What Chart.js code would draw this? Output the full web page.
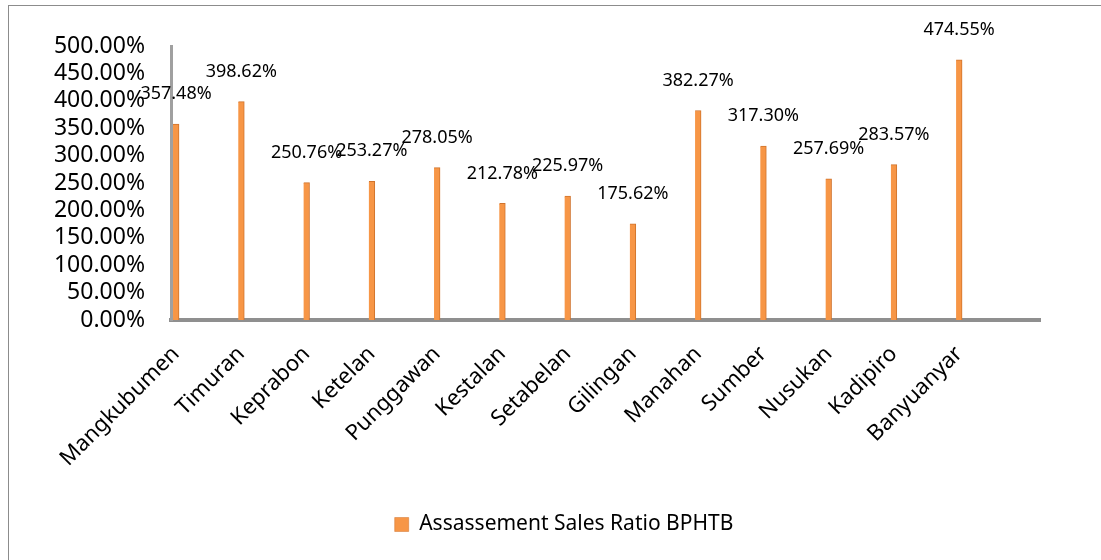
<!DOCTYPE html>
<html>
<head>
<meta charset="utf-8">
<script src="https://cdn.jsdelivr.net/npm/chart.js@4.4.1/dist/chart.umd.min.js"></script>
<style>
  html, body { margin: 0; padding: 0; background: #fff; overflow: hidden; }
  #frame { position: absolute; left: 8px; top: 5px; width: 1200px; height: 700px; border: 1px solid #8c8c8c; }
  #chart { position: absolute; left: 0; top: 0; }
</style>
</head>
<body>
<div id="frame"></div>
<canvas id="chart" width="1101" height="560"></canvas>
<script>
// Kelurahan dan rasio penilaian BPHTB (persen)
const categories = ['Mangkubumen', 'Timuran', 'Keprabon', 'Ketelan', 'Punggawan', 'Kestalan',
    'Setabelan', 'Gilingan', 'Manahan', 'Sumber', 'Nusukan', 'Kadipiro', 'Banyuanyar'];
const ratios = [357.48, 398.62, 250.76, 253.27, 278.05, 212.78, 225.97, 175.62, 382.27, 317.30, 257.69, 283.57, 474.55];
const seriesName = 'Assassement Sales Ratio BPHTB';
const yTicks = { min: 0, max: 500, step: 50 };

const FONT = "'Noto Sans', 'Open Sans', sans-serif";
const ORANGE = '#F79646';

function formatPercent(v) {
    return Number(v).toFixed(2) + '%';
}

// nilai di atas tiap batang
const valueLabels = {
    id: 'valueLabels',
    afterDatasetsDraw(chart) {
        const ctx = chart.ctx;
        const meta = chart.getDatasetMeta(0);
        ctx.save();
        ctx.font = '18px ' + FONT;
        ctx.fillStyle = '#000';
        ctx.textAlign = 'center';
        ctx.textBaseline = 'middle';
        meta.data.forEach(function (bar, i) {
            ctx.fillText(formatPercent(ratios[i]), bar.x, bar.y - 30);
        });
        ctx.restore();
    }
};

// geser legenda sedikit ke kanan seperti di gambar asli
const legendShift = {
    id: 'legendShift',
    afterLayout(chart) {
        if (chart.legend) {
            chart.legend.left += 24;
            chart.legend.right += 24;
        }
    }
};

const ctx = document.getElementById('chart').getContext('2d');
new Chart(ctx, {
    type: 'bar',
    data: {
        datasets: [{
            label: seriesName,
            data: categories.map((c, i) => ({ x: i, y: ratios[i] })),
            backgroundColor: ORANGE,
            borderColor: '#D0732C',
            borderWidth: { left: 0, right: 1, top: 1, bottom: 0 },
            borderSkipped: false,
            barThickness: 6
        }]
    },
    options: {
        responsive: false,
        animation: false,
        devicePixelRatio: 1,
        layout: { padding: { left: 40, right: 61, top: 46, bottom: 15 } },
        plugins: {
            tooltip: { enabled: false },
            legend: {
                position: 'bottom',
                labels: {
                    boxWidth: 14,
                    boxHeight: 14,
                    padding: 10,
                    color: '#000',
                    font: { family: FONT, size: 21 }
                }
            }
        },
        scales: {
            x: {
                type: 'linear',
                offset: false,
                min: -0.077,
                max: 13.24,
                grid: { display: false, drawTicks: false },
                border: { display: true, color: '#8f8f8f', width: 4 },
                afterFit: function (scale) { scale.height = 184; },
                ticks: {
                    stepSize: 1,
                    includeBounds: false,
                    autoSkip: false,
                    maxRotation: 45,
                    minRotation: 45,
                    padding: 21,
                    color: '#000',
                    font: { family: FONT, size: 22 },
                    callback: function (v) { return categories[v] !== undefined ? categories[v] : ''; }
                }
            },
            y: {
                min: yTicks.min,
                max: yTicks.max,
                grid: { display: false, drawTicks: false },
                border: { display: true, color: '#a0a0a0', width: 3 },
                afterFit: function (scale) { scale.width = 131; },
                ticks: {
                    stepSize: yTicks.step,
                    autoSkip: false,
                    padding: 26,
                    color: '#000',
                    font: { family: FONT, size: 23 },
                    callback: formatPercent
                }
            }
        }
    },
    plugins: [valueLabels, legendShift]
});
</script>
</body>
</html>
